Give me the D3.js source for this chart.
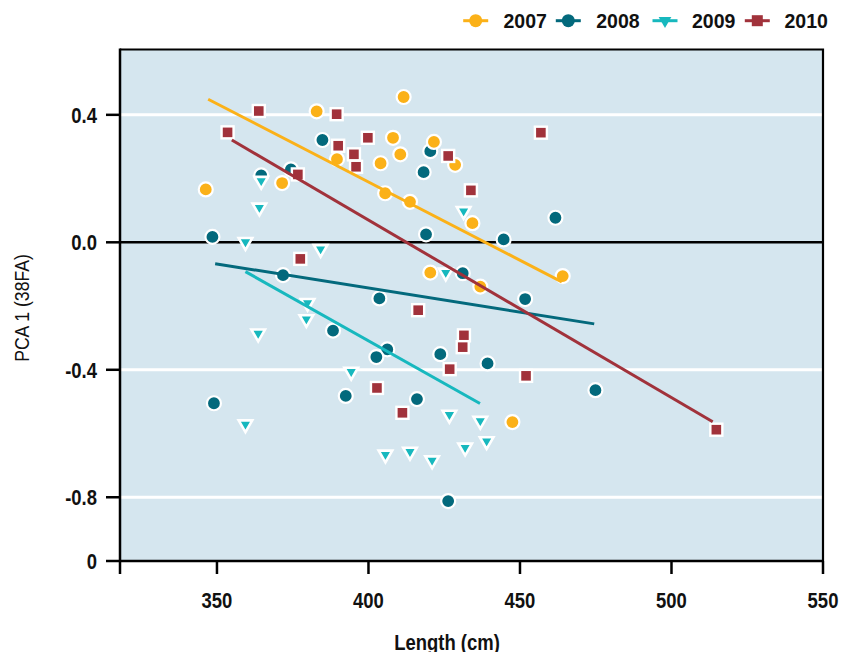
<!DOCTYPE html>
<html>
<head>
<meta charset="utf-8">
<script src="https://cdn.jsdelivr.net/npm/d3@7"></script>
<style>
  html, body { margin: 0; padding: 0; background: #ffffff; }
  svg { display: block; }
  .cond { font-family: "Liberation Sans", Arial, sans-serif; font-weight: bold; fill: #111; }
  .legend-label { font-family: "Liberation Sans", Arial, sans-serif; font-weight: bold; fill: #111; }
</style>
</head>
<body>
<svg id="chart" width="848" height="652"></svg>
<script>
// Series: length (cm) and PCA 1 (38FA) score per fish, by year
const years = ["2007", "2008", "2009", "2010"];

const len2007 = [346.3, 382.9, 411.6, 371.5, 389.6, 404.0, 408.1, 410.5, 421.6, 405.5, 413.7, 428.6, 434.3, 420.4, 436.9, 447.5, 464.1];
const pca2007 = [0.166, 0.411, 0.456, 0.186, 0.261, 0.248, 0.328, 0.276, 0.315, 0.154, 0.127, 0.243, 0.060, -0.095, -0.139, -0.564, -0.106];

const len2008 = [384.8, 364.6, 374.4, 348.5, 371.8, 420.4, 418.2, 419.0, 444.6, 461.7, 431.1, 403.6, 451.7, 388.3, 392.5, 349.0, 406.2, 402.6, 423.7, 439.3, 416.0, 426.3, 474.9];
const pca2008 = [0.321, 0.210, 0.229, 0.017, -0.103, 0.286, 0.220, 0.025, 0.009, 0.077, -0.097, -0.176, -0.178, -0.277, -0.482, -0.505, -0.336, -0.360, -0.351, -0.380, -0.492, -0.812, -0.464];

const len2009 = [364.6, 364.0, 359.4, 384.2, 379.9, 379.5, 431.4, 425.5, 363.6, 359.4, 394.3, 426.7, 436.9, 439.0, 431.9, 405.6, 413.7, 421.0];
const pca2009 = [0.193, 0.109, 0.001, -0.021, -0.190, -0.241, 0.098, -0.095, -0.286, -0.571, -0.406, -0.541, -0.560, -0.624, -0.644, -0.666, -0.657, -0.684];

const len2010 = [363.8, 353.5, 389.5, 390.0, 395.2, 395.9, 399.8, 376.7, 377.5, 426.3, 433.8, 456.9, 416.4, 431.5, 431.1, 426.8, 452.0, 402.8, 411.2, 514.8];
const pca2010 = [0.412, 0.345, 0.402, 0.303, 0.276, 0.237, 0.328, 0.213, -0.052, 0.271, 0.163, 0.344, -0.213, -0.292, -0.329, -0.398, -0.419, -0.457, -0.535, -0.588];

// Fitted trend lines per year: [x start, x end] and [y start, y end]
const fitLen2007 = [347.1, 463.8], fitPca2007 = [0.449, -0.124];
const fitLen2008 = [349.4, 474.5], fitPca2008 = [-0.067, -0.256];
const fitLen2009 = [359.4, 436.8], fitPca2009 = [-0.092, -0.506];
const fitLen2010 = [354.9, 513.6], fitPca2010 = [0.321, -0.563];

// Axis ticks
const xTickValues = [350, 400, 450, 500, 550];
const xTickLabels = ["350", "400", "450", "500", "550"];
const yTickValues = [0.4, 0.0, -0.4, -0.8, -1.0];
const yTickLabels = ["0.4", "0.0", "-0.4", "-0.8", "0"];
const gridValues = [0.4, -0.4, -0.8];

const colors = { "2007": "#fbb118", "2008": "#03697c", "2009": "#17b8be", "2010": "#a1323b" };
const shapes = { "2007": "circle", "2008": "circle", "2009": "triangle", "2010": "square" };

const series = [
  { year: "2007", x: len2007, y: pca2007, fx: fitLen2007, fy: fitPca2007 },
  { year: "2008", x: len2008, y: pca2008, fx: fitLen2008, fy: fitPca2008 },
  { year: "2009", x: len2009, y: pca2009, fx: fitLen2009, fy: fitPca2009 },
  { year: "2010", x: len2010, y: pca2010, fx: fitLen2010, fy: fitPca2010 }
];

const svg = d3.select("#chart");
const plot = { left: 120, right: 823, top: 49.5, bottom: 561 };
const squeeze = 0.84; // horizontal squeeze giving a condensed face

const x = d3.scaleLinear().domain([318, 550]).range([plot.left, plot.right]);
const y = d3.scaleLinear().domain([-1.0, 0.605]).range([plot.bottom, plot.top]);

// Condensed text helper: positioned by transform, squeezed horizontally
function condText(parent, tx, ty, str, size, anchor, rotate, weight) {
  const rot = rotate ? ` rotate(${rotate})` : "";
  return parent.append("text")
    .attr("class", "cond")
    .attr("transform", `translate(${tx},${ty})${rot} scale(${squeeze},1)`)
    .attr("text-anchor", anchor)
    .attr("font-size", size)
    .style("font-weight", weight || "bold")
    .text(str);
}

// Panel background
svg.append("rect")
  .attr("x", plot.left).attr("y", plot.top)
  .attr("width", plot.right - plot.left).attr("height", plot.bottom - plot.top)
  .attr("fill", "#d5e6ef");

// White grid lines
svg.append("g").selectAll("line").data(gridValues).join("line")
  .attr("x1", plot.left).attr("x2", plot.right)
  .attr("y1", d => y(d)).attr("y2", d => y(d))
  .attr("stroke", "#ffffff").attr("stroke-width", 3);

// Zero reference line
svg.append("line")
  .attr("x1", plot.left).attr("x2", plot.right)
  .attr("y1", y(0)).attr("y2", y(0))
  .attr("stroke", "#000").attr("stroke-width", 2.5);

// Marker drawing helper
function drawMarker(sel, year, cx, cy, outline) {
  const shape = shapes[year];
  const col = colors[year];
  const st = outline ? "#fff" : "none";
  if (shape === "circle") {
    sel.append("circle").attr("cx", cx).attr("cy", cy).attr("r", outline ? 7 : 6.5)
      .attr("fill", col).attr("stroke", st).attr("stroke-width", 2.2);
  } else if (shape === "square") {
    const s = outline ? 12 : 11;
    sel.append("rect").attr("x", cx - s / 2).attr("y", cy - s / 2)
      .attr("width", s).attr("height", s)
      .attr("fill", col).attr("stroke", st).attr("stroke-width", 2.4);
  } else {
    sel.append("path")
      .attr("d", d3.symbol().type(d3.symbolTriangle).size(outline ? 80 : 70)())
      .attr("transform", `translate(${cx},${cy}) rotate(180)`)
      .attr("fill", col).attr("stroke", st).attr("stroke-width", 2.6)
      .attr("stroke-linejoin", "miter");
  }
}

// Points, drawn year by year
const pointsG = svg.append("g");
const drawOrder = ["2008", "2007", "2009", "2010"];
drawOrder.forEach(yr => {
  const s = series.find(d => d.year === yr);
  s.x.forEach((v, i) => drawMarker(pointsG, yr, x(v), y(s.y[i]), true));
});

// Trend lines
svg.append("g").selectAll("line").data(series).join("line")
  .attr("x1", d => x(d.fx[0])).attr("x2", d => x(d.fx[1]))
  .attr("y1", d => y(d.fy[0])).attr("y2", d => y(d.fy[1]))
  .attr("stroke", d => colors[d.year]).attr("stroke-width", 3);

// Frame: top and right border
svg.append("path")
  .attr("d", `M${plot.left},${plot.top}H${plot.right}V${plot.bottom}`)
  .attr("fill", "none").attr("stroke", "#000").attr("stroke-width", 2.2);

// Y axis
svg.append("line").attr("x1", plot.left).attr("x2", plot.left)
  .attr("y1", plot.top - 1).attr("y2", plot.bottom + 13)
  .attr("stroke", "#000").attr("stroke-width", 2.5);
svg.append("g").selectAll("line").data(yTickValues).join("line")
  .attr("x1", plot.left - 14).attr("x2", plot.left)
  .attr("y1", d => y(d)).attr("y2", d => y(d))
  .attr("stroke", "#000").attr("stroke-width", 2.5);
const yLabG = svg.append("g");
yTickValues.forEach((v, i) => condText(yLabG, 97, y(v) + 7.8, yTickLabels[i], 22, "end"));

// X axis
svg.append("line").attr("x1", plot.left).attr("x2", plot.right + 1)
  .attr("y1", plot.bottom).attr("y2", plot.bottom)
  .attr("stroke", "#000").attr("stroke-width", 2.5);
svg.append("g").selectAll("line").data(xTickValues).join("line")
  .attr("x1", d => x(d)).attr("x2", d => x(d))
  .attr("y1", plot.bottom).attr("y2", plot.bottom + 13)
  .attr("stroke", "#000").attr("stroke-width", 2.5);
const xLabG = svg.append("g");
xTickValues.forEach((v, i) => condText(xLabG, x(v), 607.5, xTickLabels[i], 22, "middle"));

// Axis titles
condText(svg, 447, 650, "Length (cm)", 22, "middle");
condText(svg, 29, 308, "PCA 1 (38FA)", 21, "middle", -90, "normal");

// Legend
const legendItems = [
  { year: "2007", cx: 475.7, tx: 503.5 },
  { year: "2008", cx: 568.3, tx: 596.2 },
  { year: "2009", cx: 665, tx: 692 },
  { year: "2010", cx: 757.3, tx: 784.5 }
];
const legendY = 20.7;
const legendG = svg.append("g");
legendItems.forEach(it => {
  legendG.append("line")
    .attr("x1", it.cx - 12.5).attr("x2", it.cx + 12.5)
    .attr("y1", legendY).attr("y2", legendY)
    .attr("stroke", colors[it.year]).attr("stroke-width", 3);
  drawMarker(legendG, it.year, it.cx, legendY, false);
  legendG.append("text").attr("class", "legend-label")
    .attr("x", it.tx).attr("y", legendY).attr("dy", "0.36em")
    .attr("font-size", 19.5)
    .text(it.year);
});
</script>
</body>
</html>
